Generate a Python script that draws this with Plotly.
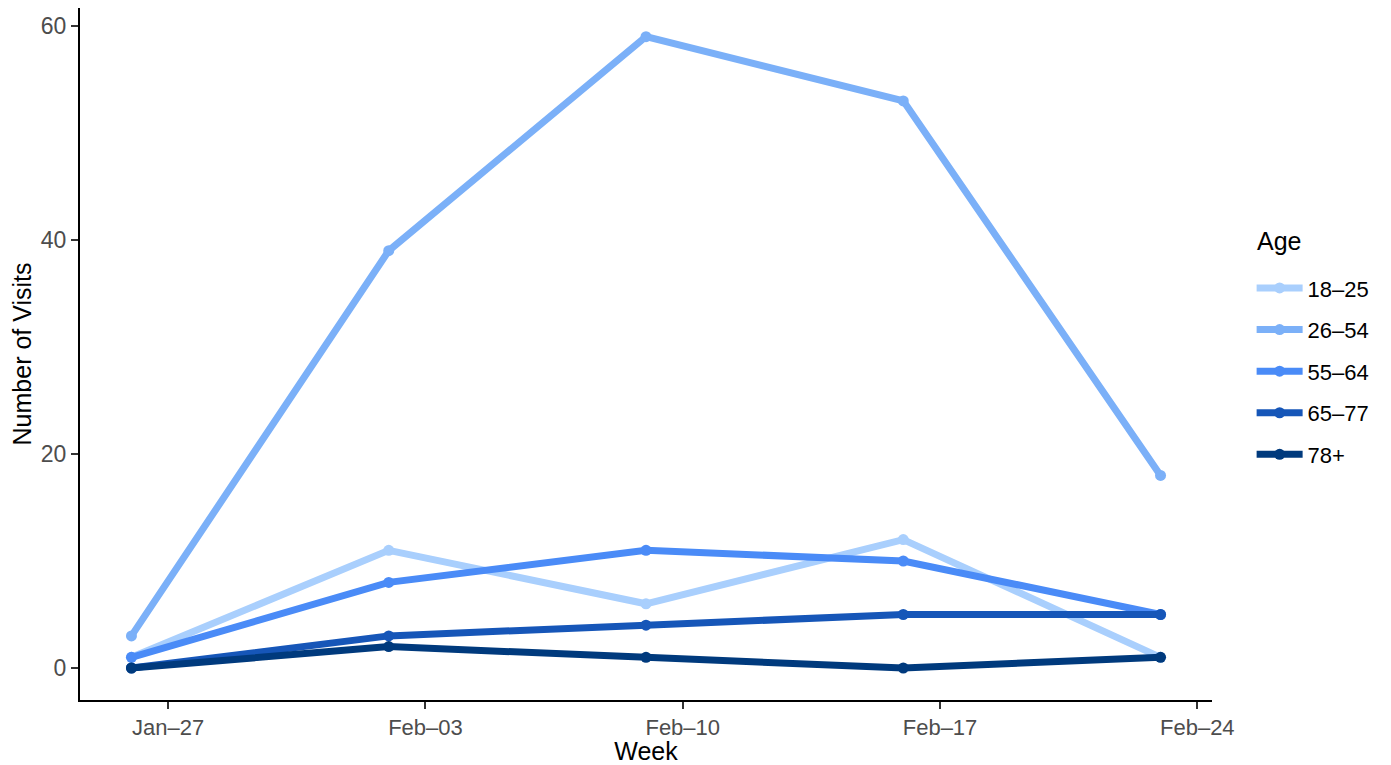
import plotly.graph_objects as go

weeks = ["2020-01-26", "2020-02-02", "2020-02-09", "2020-02-16", "2020-02-23"]
ages = ["18–25", "26–54", "55–64", "65–77", "78+"]
visits = {
    "18–25": [1, 11, 6, 12, 1],
    "26–54": [3, 39, 59, 53, 18],
    "55–64": [1, 8, 11, 10, 5],
    "65–77": [0, 3, 4, 5, 5],
    "78+": [0, 2, 1, 0, 1],
}
colors = ["#A9CFFD", "#7BB0F8", "#4A8BF7", "#1656B8", "#003A7D"]
tick_vals = ["2020-01-27", "2020-02-03", "2020-02-10", "2020-02-17", "2020-02-24"]
tick_text = ["Jan–27", "Feb–03", "Feb–10", "Feb–17", "Feb–24"]

fig = go.Figure()
for i, a in enumerate(ages):
    fig.add_trace(go.Scatter(
        x=weeks, y=visits[a], name=a, mode="lines+markers",
        line=dict(color=colors[i], width=7),
        marker=dict(color=colors[i], size=11),
        legendgroup=a,
    ))

font = "Liberation Sans, Arial, sans-serif"
fig.update_layout(
    width=1383, height=757,
    margin=dict(l=72, r=179, t=0, b=65),
    plot_bgcolor="white", paper_bgcolor="white",
    font=dict(family=font, color="black"),
    showlegend=True,
    legend=dict(
        font=dict(size=22, color="black"),
        x=1.035, xanchor="left", y=0.6255, yanchor="top",
        tracegroupgap=10, itemwidth=46,
    ),
    annotations=[dict(
        text="Age", xref="paper", yref="paper", x=1.038, y=0.663,
        xanchor="left", yanchor="middle", showarrow=False,
        font=dict(size=25, color="black"),
    )],
    xaxis=dict(
        type="date", automargin=False,
        range=["2020-01-24 14:24", "2020-02-24 09:36"],
        tickvals=tick_vals, ticktext=tick_text,
        tickfont=dict(size=22, color="#4d4d4d"),
        ticks="outside", ticklen=7, tickcolor="#333333", tickwidth=1.5,
        showline=True, linecolor="black", linewidth=2,
        showgrid=False, zeroline=False,
        title=dict(text="Week", font=dict(size=25, color="black"), standoff=2),
    ),
    yaxis=dict(
        automargin=False,
        range=[-2.99, 61.68],
        tickvals=[0, 20, 40, 60],
        tickfont=dict(size=23, color="#4d4d4d"),
        ticks="outside", ticklen=7, tickcolor="#333333", tickwidth=1.5,
        showline=True, linecolor="black", linewidth=2,
        showgrid=False, zeroline=False,
        title=dict(text="Number of Visits", font=dict(size=25, color="black"), standoff=23),
    ),
)

fig.write_html("out.html")
